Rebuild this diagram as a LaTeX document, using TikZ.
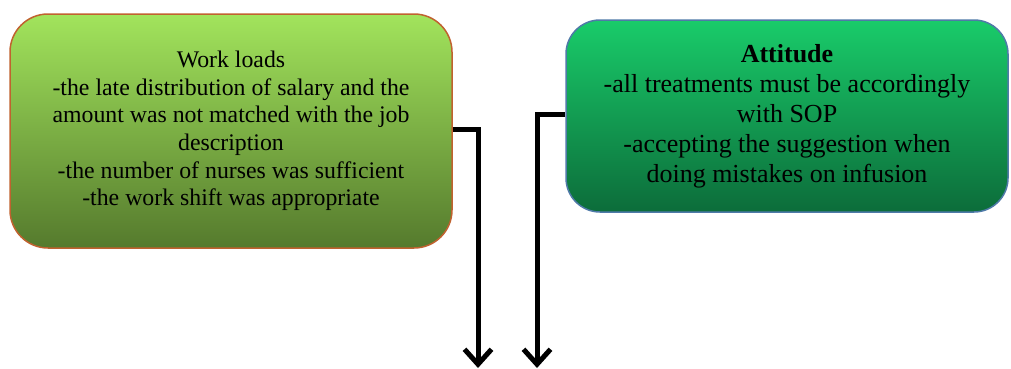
\documentclass[tikz,border=0pt]{standalone}
\usepackage{fontspec}
\setmainfont{Liberation Serif}
\usetikzlibrary{arrows.meta}
\definecolor{lgtop}{HTML}{A2E45C}
\definecolor{lgbot}{HTML}{557A2D}
\definecolor{lgborder}{HTML}{C0622F}
\definecolor{rgtop}{HTML}{19CC6A}
\definecolor{rgbot}{HTML}{0C6C3A}
\definecolor{rgborder}{HTML}{4F7AA8}
\tikzset{
  box/.style={draw, line width=1.5pt, rounded corners=38pt, align=center,
    inner sep=0pt, font=\fontsize{23.8}{27.6}\selectfont},
  conn/.style={line width=5pt, -{Straight Barb[length=15pt,width=27pt]}}
}
\begin{document}
\begin{tikzpicture}[x=1pt,y=1pt]
\useasboundingbox (0,0) rectangle (1011,368);
\node[box, draw=lgborder, top color=lgtop, bottom color=lgbot,
  minimum width=442pt, minimum height=234pt] (wl) at (231,237)
  {Work loads\\-the late distribution of salary and the\\amount was not matched with the job\\description\\-the number of nurses was sufficient\\-the work shift was appropriate};
\node[box, draw=rgborder, top color=rgtop, bottom color=rgbot,
  minimum width=442pt, minimum height=192pt, rounded corners=34pt,
  font=\fontsize{26}{30}\selectfont] (att) at (787,252)
  {\textbf{Attitude}\\-all treatments must be accordingly\\with SOP\\-accepting the suggestion when\\doing mistakes on infusion};
\coordinate (e1) at (478,0);
\coordinate (e2) at (537,0);
\draw[conn] (wl.east |- 0,239) -- (478,239) -- (e1);
\draw[conn] (att.west |- 0,254) -- (537,254) -- (e2);
\end{tikzpicture}
\end{document}
